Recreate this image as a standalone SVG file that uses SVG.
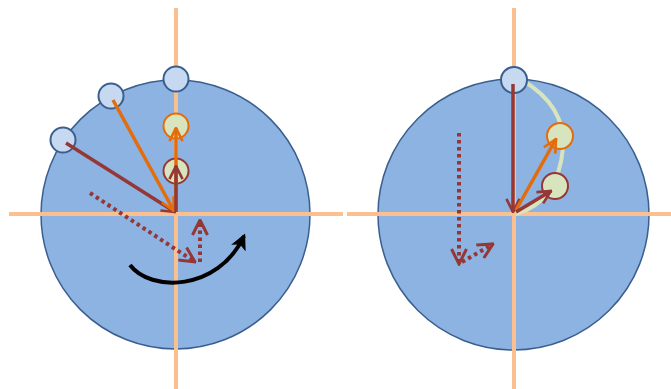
<svg xmlns="http://www.w3.org/2000/svg" width="671" height="389" viewBox="0 0 671 389">
<style>
.big{fill:#8DB3E2;stroke:#3A5F8F;stroke-width:1.5}
.axis{stroke:#FAC090;stroke-width:4;fill:none}
.pt{fill:#C6D9F1;stroke:#3A5F8F;stroke-width:2}
.g1{fill:#D7E4BD;stroke:#E46C0A;stroke-width:2}
.g2{fill:#D7E4BD;stroke:#953735;stroke-width:2}
.br{stroke:#953735;stroke-width:3.5;fill:none;marker-end:url(#ab)}
.or{stroke:#E46C0A;stroke-width:3.5;fill:none;marker-end:url(#ao)}
.dot{stroke:#953735;stroke-width:4;fill:none;stroke-dasharray:3.5 3.5;marker-end:url(#ab)}
</style>
<defs>
<marker id="ab" viewBox="0 0 12 12" refX="11" refY="6" markerWidth="4.5" markerHeight="4.5" orient="auto" markerUnits="strokeWidth">
<path d="M1,1 L11,6 L1,11" fill="none" stroke="#953735" stroke-width="2"/>
</marker>
<marker id="ao" viewBox="0 0 12 12" refX="11" refY="6" markerWidth="4.5" markerHeight="4.5" orient="auto" markerUnits="strokeWidth">
<path d="M1,1 L11,6 L1,11" fill="none" stroke="#E46C0A" stroke-width="2"/>
</marker>
<marker id="ak" viewBox="0 0 12 12" refX="10" refY="6" markerWidth="4" markerHeight="4" orient="auto" markerUnits="strokeWidth">
<path d="M0,0 L12,6 L0,12 L3,6 Z" fill="#000"/>
</marker>
</defs>
<g id="left-disc"><circle class="big" cx="175.5" cy="214.5" r="134.5"/></g>
<g id="right-disc"><circle class="big" cx="513.5" cy="214.5" r="135.5"/></g>
<g id="axes">
<line class="axis" x1="9" y1="214" x2="343" y2="214"/>
<line class="axis" x1="176" y1="8" x2="176" y2="389"/>
<line class="axis" x1="347" y1="214" x2="671" y2="214"/>
<line class="axis" x1="514" y1="8" x2="514" y2="389"/>
</g>
<g id="right-arc"><path d="M522,80 Q566,106 563,148 Q558,202 516,214" fill="none" stroke="#D7E4BD" stroke-width="4"/></g>
<g id="left-points">
<circle class="pt" cx="176" cy="79" r="12.5"/>
<circle class="pt" cx="111" cy="96" r="12.5"/>
<circle class="pt" cx="63" cy="140" r="12.5"/>
<circle class="g1" cx="176" cy="126" r="12.5"/>
<circle class="g2" cx="176" cy="171" r="12.5"/>
</g>
<g id="right-points">
<circle class="pt" cx="514" cy="80" r="13"/>
<circle class="g1" cx="560" cy="136" r="13"/>
<circle class="g2" cx="555" cy="186" r="13"/>
</g>
<g id="connectors">
<line class="br" x1="66" y1="143" x2="175" y2="212"/>
<line class="or" x1="113" y1="100" x2="174" y2="211"/>
<line class="or" x1="176" y1="210" x2="176" y2="128"/>
<line class="br" x1="176" y1="212" x2="176" y2="166"/>
<line class="dot" x1="90" y1="193" x2="195" y2="262"/>
<line class="dot" x1="200" y1="262" x2="200" y2="220"/>
<path d="M130,265 C150,292 218,292 244,236" fill="none" stroke="#000" stroke-width="4" marker-end="url(#ak)"/>
<line class="br" x1="513" y1="84" x2="513" y2="212"/>
<line class="or" x1="516" y1="210" x2="556" y2="139"/>
<line class="br" x1="516" y1="212" x2="551" y2="191"/>
<line class="dot" x1="459" y1="133" x2="459" y2="264"/>
<line class="dot" x1="462" y1="262" x2="493" y2="244"/>
</g>
</svg>
